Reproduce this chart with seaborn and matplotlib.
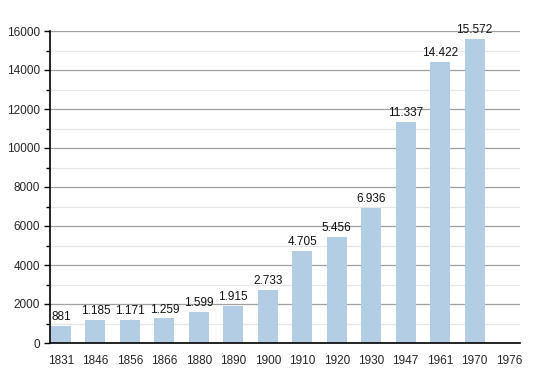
import matplotlib
matplotlib.use("Agg")
import matplotlib.pyplot as plt
import seaborn as sns
import pandas as pd
from matplotlib.ticker import MultipleLocator

years = ["1831", "1846", "1856", "1866", "1880", "1890", "1900", "1910",
         "1920", "1930", "1947", "1961", "1970"]
population = [881, 1185, 1171, 1259, 1599, 1915, 2733, 4705, 5456, 6936,
              11337, 14422, 15572]
axis_labels = years + ["1976"]

sns.set_theme(style="white")
plt.rcParams['font.family'] = ['Liberation Sans', 'DejaVu Sans']

df = pd.DataFrame({"year": years, "pop": population})

fig = plt.figure(figsize=(5.5, 3.73), dpi=100)
ax = fig.add_axes([50/550, 1-343/373, 470/550, 312/373])

sns.barplot(data=df, x="year", y="pop", order=axis_labels, color="#b3cde5",
            width=0.58, saturation=1, linewidth=0, edgecolor="none", ax=ax, zorder=3)

ax.set_ylim(0, 16000)
ax.set_xlim(-0.32, 13.32)
ax.yaxis.set_major_locator(MultipleLocator(2000))
ax.yaxis.set_minor_locator(MultipleLocator(1000))
ax.grid(axis="y", which="major", color="#a0a0a0", linewidth=0.9, zorder=0)
ax.grid(axis="y", which="minor", color="#e6e6e6", linewidth=0.9, zorder=0)
ax.set_axisbelow(True)

for s in ["top", "right"]:
    ax.spines[s].set_visible(False)
for s in ["left", "bottom"]:
    ax.spines[s].set_color("black")
    ax.spines[s].set_linewidth(1.2)
    ax.spines[s].set_zorder(5)

ax.tick_params(axis="y", which="major", left=True, length=4, width=1, color="black",
               labelsize=8.5, pad=3)
ax.tick_params(axis="y", which="minor", left=True, length=3, width=1, color="black")
ax.tick_params(axis="x", bottom=False, labelsize=8.5, pad=3)
ax.set_xlabel("")
ax.set_ylabel("")

def fmt(v):
    return f"{v:,}".replace(",", ".")

for i, v in enumerate(population):
    ax.text(i, v + 150, fmt(v), ha="center", va="bottom", fontsize=8.5, color="#111111")

fig.savefig("out.png", dpi=100)
